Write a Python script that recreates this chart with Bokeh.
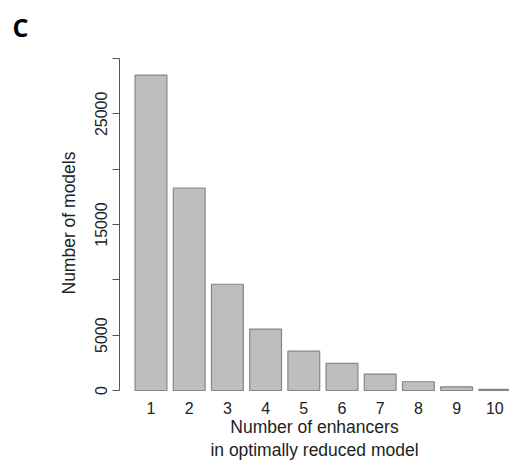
from bokeh.plotting import figure
from bokeh.models import FixedTicker, Range1d, LinearAxis
from bokeh.embed import file_html
from bokeh.resources import INLINE

# Data
categories = ["1", "2", "3", "4", "5", "6", "7", "8", "9", "10"]
counts = [28500, 18300, 9600, 5550, 3550, 2450, 1480, 790, 330, 100]
y_ticks = [0, 5000, 10000, 15000, 20000, 25000, 30000]
y_tick_labels = ["0", "5000", "", "15000", "", "25000", ""]
x_title_lines = ["Number of enhancers", "in optimally reduced model"]
y_title = "Number of models"
panel_letter = "C"

xs = list(range(1, len(categories) + 1))

p = figure(frame_width=390, frame_height=345, output_backend="svg", toolbar_location=None,
           x_range=Range1d(0.1754, 10.385), y_range=Range1d(-452, 30723),
           min_border_left=119, min_border_right=0, min_border_top=50, min_border_bottom=66,
           title=panel_letter)
p.outline_line_color = None
p.grid.visible = False
p.background_fill_color = "white"
p.border_fill_color = "white"

p.title.text_font = "Open Sans"
p.title.text_font_style = "bold"
p.title.text_font_size = "25px"
p.title.align = "left"
p.title.offset = -107
p.title.standoff = 14
p.title.text_color = "black"

p.vbar(x=xs, top=counts, bottom=0, width=1/1.2, fill_color="#bebebe",
       line_color="#858585", line_width=1.2)

# y axis
ya = p.yaxis[0]
ya.ticker = FixedTicker(ticks=y_ticks)
ya.major_label_overrides = {t: l for t, l in zip(y_ticks, y_tick_labels)}
ya.bounds = (0, 30000)
ya.axis_line_color = "#555555"
ya.major_tick_line_color = "#555555"
ya.major_tick_out = 7
ya.major_tick_in = 0
ya.minor_tick_line_color = None
ya.major_label_orientation = "vertical"
ya.major_label_text_font = "Liberation Sans"
ya.major_label_text_font_size = "16px"
ya.major_label_text_color = "#222222"
ya.major_label_standoff = 5
ya.axis_label = y_title
ya.axis_label_text_font = "Liberation Sans"
ya.axis_label_text_font_size = "17.5px"
ya.axis_label_text_font_style = "normal"
ya.axis_label_text_color = "#222222"
ya.axis_label_standoff = 14

# x axis (names under bars) + first title line
xa = p.xaxis[0]
xa.ticker = FixedTicker(ticks=xs)
xa.major_label_overrides = {x: c for x, c in zip(xs, categories)}
xa.axis_line_color = None
xa.major_tick_line_color = None
xa.minor_tick_line_color = None
xa.major_tick_out = 0
xa.major_tick_in = 0
xa.major_label_text_font = "Liberation Sans"
xa.major_label_text_font_size = "16px"
xa.major_label_text_color = "#222222"
xa.major_label_standoff = 6
xa.axis_label = x_title_lines[0]
xa.axis_label_text_font = "Liberation Sans"
xa.axis_label_text_font_size = "17.5px"
xa.axis_label_text_font_style = "normal"
xa.axis_label_text_color = "#222222"
xa.axis_label_standoff = 0

# second title line, carried by an empty axis below
xa2 = LinearAxis(ticker=FixedTicker(ticks=[]), axis_line_color=None,
                 major_tick_line_color=None, minor_tick_line_color=None,
                 major_tick_out=0, major_tick_in=0, minor_tick_out=0,
                 major_label_standoff=0, major_label_text_font_size="0px",
                 axis_label=x_title_lines[1], axis_label_standoff=0,
                 axis_label_text_font="Liberation Sans", axis_label_text_font_size="17.5px",
                 axis_label_text_font_style="normal", axis_label_text_color="#222222")
p.add_layout(xa2, "below")

open("out.html", "w").write(file_html(p, INLINE))
